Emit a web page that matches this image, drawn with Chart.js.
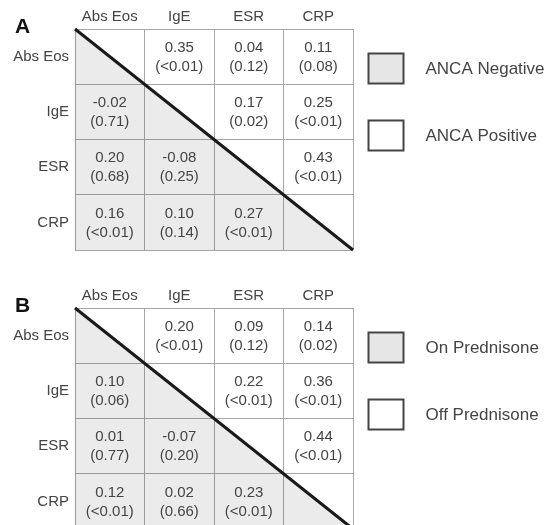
<!DOCTYPE html>
<html>
<head>
<meta charset="utf-8">
<script src="https://cdn.jsdelivr.net/npm/chart.js@4/dist/chart.umd.min.js"></script>
<style>
  html, body { margin: 0; padding: 0; background: #fff; overflow: hidden; }
  body { width: 553px; height: 525px; position: relative; }
  .panel { position: absolute; left: 0; width: 553px; height: 279px; }
  #wrapA { top: 0; }
  #wrapB { top: 279px; }
</style>
</head>
<body>
<div class="panel" id="wrapA"><canvas id="chartA" width="553" height="279"></canvas></div>
<div class="panel" id="wrapB"><canvas id="chartB" width="553" height="279"></canvas></div>
<script>
// ---- Data ----
const categories = ['Abs Eos', 'IgE', 'ESR', 'CRP'];

// Panel A: correlation coefficients by row (null = diagonal)
const corrA_AbsEos = [null, 0.35, 0.04, 0.11];
const corrA_IgE    = [-0.02, null, 0.17, 0.25];
const corrA_ESR    = [0.20, -0.08, null, 0.43];
const corrA_CRP    = [0.16, 0.10, 0.27, null];
// Panel A: p-values by row
const pA_AbsEos = [null, '<0.01', '0.12', '0.08'];
const pA_IgE    = ['0.71', null, '0.02', '<0.01'];
const pA_ESR    = ['0.68', '0.25', null, '<0.01'];
const pA_CRP    = ['<0.01', '0.14', '<0.01', null];

// Panel B: correlation coefficients by row
const corrB_AbsEos = [null, 0.20, 0.09, 0.14];
const corrB_IgE    = [0.10, null, 0.22, 0.36];
const corrB_ESR    = [0.01, -0.07, null, 0.44];
const corrB_CRP    = [0.12, 0.02, 0.23, null];
// Panel B: p-values by row
const pB_AbsEos = [null, '<0.01', '0.12', '0.02'];
const pB_IgE    = ['0.06', null, '<0.01', '<0.01'];
const pB_ESR    = ['0.77', '0.20', null, '<0.01'];
const pB_CRP    = ['<0.01', '0.66', '<0.01', null];

const legendA = ['ANCA Negative', 'ANCA Positive'];
const legendB = ['On Prednisone', 'Off Prednisone'];

// ---- Build ----
function buildCells(corrRows, pRows) {
  const pts = [];
  corrRows.forEach((row, ri) => {
    row.forEach((v, ci) => {
      if (v === null) return;
      pts.push({ x: categories[ci], y: categories[ri], r: v, p: pRows[ri][ci] });
    });
  });
  return pts;
}

const FONT = 'Arial, "Liberation Sans", Helvetica, sans-serif';
const GRID = '#a6a6a6';
const TEXT = '#444444';

const cellTextPlugin = {
  id: 'cellText',
  afterDatasetsDraw(chart) {
    const ctx = chart.ctx;
    const meta = chart.getDatasetMeta(0);
    const ds = chart.data.datasets[0];
    ctx.save();
    ctx.fillStyle = TEXT;
    ctx.font = '15px ' + FONT;
    ctx.textAlign = 'center';
    ctx.textBaseline = 'middle';
    meta.data.forEach((el, i) => {
      const d = ds.data[i];
      ctx.fillText(d.r.toFixed(2), el.x, el.y - 9);
      ctx.fillText('(' + d.p + ')', el.x, el.y + 10);
    });
    ctx.restore();
  }
};

const sideLegendPlugin = {
  id: 'sideLegend',
  afterDraw(chart, args, opts) {
    const ctx = chart.ctx;
    const area = chart.chartArea;
    ctx.save();
    // panel letter
    ctx.fillStyle = '#111';
    ctx.font = 'bold 21px ' + FONT;
    ctx.textAlign = 'left';
    ctx.textBaseline = 'alphabetic';
    ctx.fillText(opts.letter, 15, area.top + 4);
    // legend boxes
    const bx = area.right + 15.5;
    const tops = [area.top + 24.5, area.top + 91.5];
    const fills = ['#e6e6e6', '#ffffff'];
    ctx.font = '17px ' + FONT;
    ctx.textBaseline = 'middle';
    opts.labels.forEach((lab, i) => {
      ctx.fillStyle = fills[i];
      ctx.fillRect(bx, tops[i], 35, 30);
      ctx.strokeStyle = '#444';
      ctx.lineWidth = 2;
      ctx.strokeRect(bx, tops[i], 35, 30);
      ctx.fillStyle = TEXT;
      ctx.fillText(lab, bx + 57, tops[i] + 16);
    });
    ctx.restore();
  }
};

function makeChart(id, corrRows, pRows, labels, letter) {
  return new Chart(document.getElementById(id), {
    data: {
      datasets: [
        {
          type: 'scatter',
          data: buildCells(corrRows, pRows),
          xAxisID: 'x', yAxisID: 'y',
          pointRadius: 0, pointHoverRadius: 0
        },
        {
          type: 'line',
          data: [{ x: 0, y: 0 }, { x: categories.length, y: categories.length }],
          xAxisID: 'x2', yAxisID: 'y2',
          borderColor: '#1a1a1a', borderWidth: 3,
          backgroundColor: 'rgba(0,0,0,0.08)',
          fill: { value: categories.length },
          pointRadius: 0, tension: 0,
          clip: false
        }
      ]
    },
    options: {
      responsive: false,
      animation: false,
      events: [],
      layout: { padding: { left: 0, top: 0, right: 200, bottom: 29 } },
      plugins: {
        legend: { display: false },
        tooltip: { enabled: false },
        sideLegend: { labels: labels, letter: letter }
      },
      scales: {
        x: {
          type: 'category', labels: categories, position: 'top', offset: true,
          grid: { offset: true, color: GRID, lineWidth: 1, drawTicks: false },
          border: { color: GRID, width: 1 },
          ticks: { color: TEXT, font: { size: 15, family: FONT }, padding: 3, maxRotation: 0 },
          afterFit(s) { s.height = 29; }
        },
        y: {
          type: 'category', labels: categories, position: 'left', offset: true,
          grid: { offset: true, color: GRID, lineWidth: 1, drawTicks: false },
          border: { color: GRID, width: 1 },
          ticks: { color: TEXT, font: { size: 15, family: FONT }, padding: 6 },
          afterFit(s) { s.width = 75; }
        },
        x2: { type: 'linear', min: 0, max: categories.length, display: false },
        y2: { type: 'linear', min: 0, max: categories.length, reverse: true, display: false }
      }
    },
    plugins: [cellTextPlugin, sideLegendPlugin]
  });
}

makeChart('chartA',
  [corrA_AbsEos, corrA_IgE, corrA_ESR, corrA_CRP],
  [pA_AbsEos, pA_IgE, pA_ESR, pA_CRP], legendA, 'A');
makeChart('chartB',
  [corrB_AbsEos, corrB_IgE, corrB_ESR, corrB_CRP],
  [pB_AbsEos, pB_IgE, pB_ESR, pB_CRP], legendB, 'B');
</script>
</body>
</html>
